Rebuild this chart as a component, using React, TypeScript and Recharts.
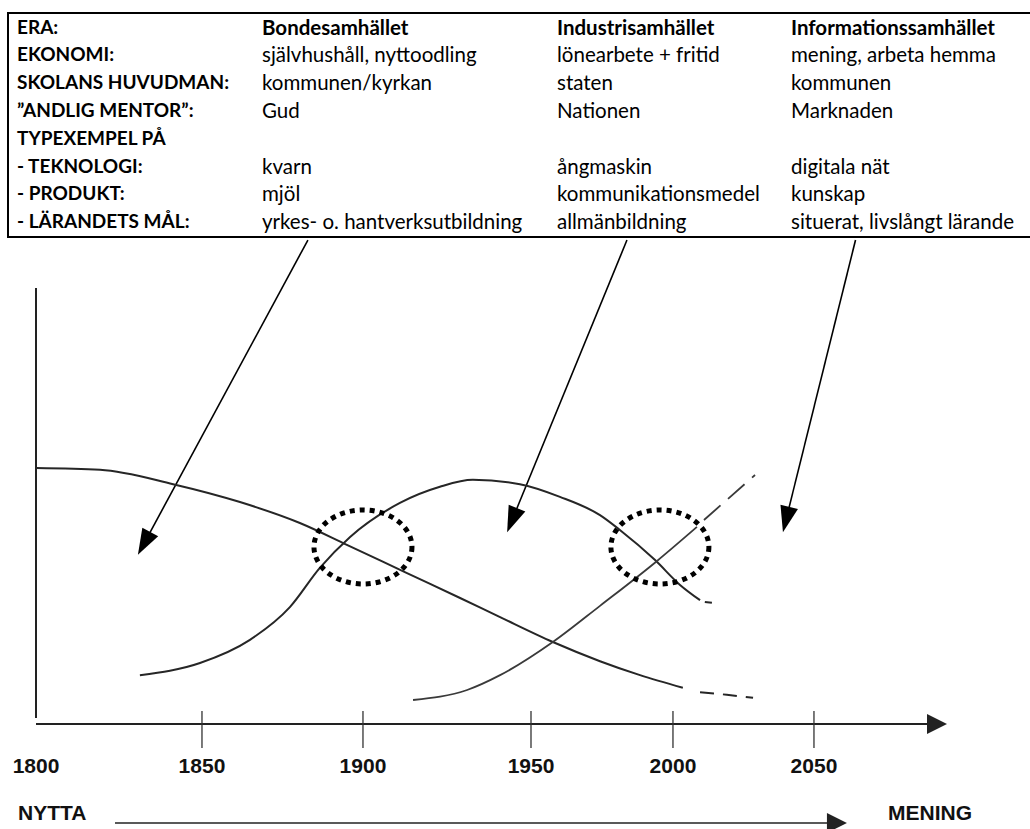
import { LineChart, Line, XAxis, YAxis, ReferenceLine, ReferenceDot } from "recharts"

// table above the chart
const rowLabels = [
  "ERA:",
  "EKONOMI:",
  "SKOLANS HUVUDMAN:",
  "\u201DANDLIG MENTOR\u201D:",
  "TYPEXEMPEL PÅ",
  "- TEKNOLOGI:",
  "- PRODUKT:",
  "- LÄRANDETS MÅL:",
]
const bonde = ["Bondesamhället", "självhushåll, nyttoodling", "kommunen/kyrkan", "Gud", "", "kvarn", "mjöl", "yrkes- o. hantverksutbildning"]
const industri = ["Industrisamhället", "lönearbete + fritid", "staten", "Nationen", "", "ångmaskin", "kommunikationsmedel", "allmänbildning"]
const info = ["Informationssamhället", "mening, arbeta hemma", "kommunen", "Marknaden", "", "digitala nät", "kunskap", "situerat, livslångt lärande"]

// curves: year -> relative weight (0..100)
const bondeCurve = [
  { year: 1800, v: 58.7 }, { year: 1819.3, v: 58.3 }, { year: 1841.3, v: 55.0 }, { year: 1861.8, v: 50.9 },
  { year: 1880.4, v: 46.1 }, { year: 1895.0, v: 41.1 }, { year: 1913.1, v: 34.6 }, { year: 1928.9, v: 28.9 },
  { year: 1940.8, v: 24.5 }, { year: 1957.7, v: 18.8 }, { year: 1974.3, v: 14.4 }, { year: 1988.4, v: 11.2 },
  { year: 2003.5, v: 8.3 },
]
const bondeTail = [{ year: 2009.6, v: 7.3 }, { year: 2019.1, v: 6.7 }, { year: 2028.4, v: 6.0 }]

const industriCurve = [
  { year: 1831.3, v: 11.2 }, { year: 1849.4, v: 14.0 }, { year: 1864.9, v: 19.3 }, { year: 1877.3, v: 26.8 },
  { year: 1886.6, v: 35.8 }, { year: 1896.0, v: 42.9 }, { year: 1911.0, v: 50.7 }, { year: 1922.9, v: 54.4 },
  { year: 1932.7, v: 56.0 }, { year: 1946.7, v: 55.0 }, { year: 1960.2, v: 52.1 }, { year: 1974.3, v: 47.9 },
  { year: 1981.3, v: 44.5 }, { year: 1993.7, v: 37.6 }, { year: 2002.5, v: 31.9 }, { year: 2009.6, v: 28.4 },
]
const industriTail = [{ year: 2011.3, v: 28.0 }, { year: 2013.8, v: 27.8 }]

const infoCurve = [
  { year: 1914.9, v: 5.5 }, { year: 1931.0, v: 7.8 }, { year: 1940.8, v: 11.2 }, { year: 1957.7, v: 18.8 },
  { year: 1974.3, v: 27.1 }, { year: 1994.4, v: 37.4 }, { year: 2008.5, v: 45.2 },
]
const infoTail = [{ year: 2011.0, v: 46.8 }, { year: 2029.1, v: 57.1 }]

const yearTicks = [1800, 1850, 1900, 1950, 2000, 2050]

// the hand-drawn time axis is not evenly spaced: where each year sits along it (0..1)
const axisYears = [1800, 1850, 1900, 1950, 2000, 2050, 2085]
const axisFrac = [0, 0.1867, 0.3678, 0.5568, 0.7165, 0.8751, 1]

// arrows from the table columns down into the chart [from, to]
const eraArrows = [
  [{ x: 1882.9, y: 111 }, { x: 1830.7, y: 38.8 }],
  [{ x: 1983.8, y: 111 }, { x: 1942.9, y: 44.0 }],
  [{ x: 2063.1, y: 111 }, { x: 2039.0, y: 44.0 }],
]
// crossing points circled
const crossings = [
  { year: 1900.0, v: 40.6 },
  { year: 1995.4, v: 40.6 },
]

const font = "Lato, 'Noto Sans', sans-serif"
const arial = "'Liberation Sans', Arial, sans-serif"

function piecewiseScale(): any {
  let dom = [axisYears[0], axisYears[axisYears.length - 1]]
  let rng = [0, 1]
  const toFrac = (v: number) => {
    const n = axisYears.length
    let i = 0
    if (v >= axisYears[n - 1]) i = n - 2
    else while (i < n - 2 && v > axisYears[i + 1]) i++
    const t = (v - axisYears[i]) / (axisYears[i + 1] - axisYears[i])
    return axisFrac[i] + t * (axisFrac[i + 1] - axisFrac[i])
  }
  const fromFrac = (f: number) => {
    const n = axisFrac.length
    let i = 0
    if (f >= axisFrac[n - 1]) i = n - 2
    else while (i < n - 2 && f > axisFrac[i + 1]) i++
    const t = (f - axisFrac[i]) / (axisFrac[i + 1] - axisFrac[i])
    return axisYears[i] + t * (axisYears[i + 1] - axisYears[i])
  }
  const s: any = (v: number) => {
    const f0 = toFrac(dom[0])
    const f1 = toFrac(dom[1])
    const f = (toFrac(Number(v)) - f0) / (f1 - f0)
    return rng[0] + f * (rng[1] - rng[0])
  }
  s.domain = (d?: any) => {
    if (d === undefined) return dom.slice()
    dom = [Number(d[0]), Number(d[d.length - 1])]
    return s
  }
  s.range = (r?: any) => {
    if (r === undefined) return rng.slice()
    rng = [Number(r[0]), Number(r[r.length - 1])]
    return s
  }
  s.invert = (px: number) => {
    const f0 = toFrac(dom[0])
    const f1 = toFrac(dom[1])
    return fromFrac(f0 + ((px - rng[0]) / (rng[1] - rng[0])) * (f1 - f0))
  }
  s.ticks = () => yearTicks.slice()
  s.tickFormat = () => (v: any) => String(v)
  s.copy = () => {
    const c = piecewiseScale()
    c.domain(dom)
    c.range(rng)
    return c
  }
  return s
}

const arrow = (head: number, half: number, width: number, color = "#000") => (props: any) => {
  const { x1, y1, x2, y2 } = props
  const dx = x2 - x1
  const dy = y2 - y1
  const len = Math.hypot(dx, dy) || 1
  const ux = dx / len
  const uy = dy / len
  const bx = x2 - ux * head
  const by = y2 - uy * head
  const px = -uy * half
  const py = ux * half
  return (
    <g>
      <line x1={x1} y1={y1} x2={bx + ux} y2={by + uy} stroke={color} strokeWidth={width} />
      <polygon points={`${x2},${y2} ${bx + px},${by + py} ${bx - px},${by - py}`} fill={color} />
    </g>
  )
}

function YearTick(props: any) {
  const { x, y, payload } = props
  return (
    <g>
      {payload.value !== 1800 && <line x1={x} x2={x} y1={y - 13} y2={y + 24} stroke="#333" strokeWidth={1.3} />}
      <text x={x} y={y + 41} textAnchor="middle" dominantBaseline="central" fontFamily={arial} fontWeight="bold" fontSize={21} fill="#111">
        {payload.value}
      </text>
    </g>
  )
}

const ellipse = (props: any) => (
  <ellipse cx={props.cx} cy={props.cy} rx={49} ry={37} fill="none" stroke="#000" strokeWidth={5} strokeDasharray="5 5" />
)

const curveStroke = "#262626"
const yearScale = piecewiseScale()

export default function App() {
  const cols = [bonde, industri, info]
  const colX = [262, 557, 791]
  const rowTop = (r: number) => 27 + r * 27.8 - 14.5
  return (
    <div style={{ position: "relative", width: 1030, height: 829, background: "#fff", overflow: "hidden" }}>
      <style>{"body{margin:0}"}</style>
      <LineChart width={1030} height={829} margin={{ top: 288, right: 105, bottom: 75, left: 36 }} style={{ position: "absolute", left: 0, top: 0 }}>
        <XAxis
          type="number"
          dataKey="year"
          domain={[1800, 2085]}
          scale={yearScale}
          ticks={yearTicks}
          allowDataOverflow
          axisLine={false}
          tickLine={false}
          tickSize={0}
          tickMargin={0}
          height={30}
          tick={<YearTick />}
          interval={0}
        />
        <YAxis type="number" dataKey="v" domain={[0, 100]} allowDataOverflow hide />
        {/* axes drawn by hand */}
        <ReferenceLine segment={[{ x: 1800, y: 100 }, { x: 1800, y: 1.4 }]} ifOverflow="visible" stroke="#222" strokeWidth={2} />
        <ReferenceLine segment={[{ x: 1800, y: 0 }, { x: 2085, y: 0 }]} ifOverflow="visible" stroke="#222" strokeWidth={2} />
        <ReferenceLine segment={[{ x: 2075, y: 0 }, { x: 2085, y: 0 }]} ifOverflow="visible" shape={(p: any) => arrow(20, 10, 2, "#222")({ ...p, x2: p.x2 + 22 })} />
        <ReferenceLine segment={[{ x: 1823.8, y: -22.7 }, { x: 2060.4, y: -22.7 }]} ifOverflow="visible" shape={arrow(20, 10, 1.5, "#222")} />
        {eraArrows.map((seg, i) => (
          <ReferenceLine key={i} segment={seg} ifOverflow="visible" shape={arrow(26, 9, 1.6)} />
        ))}
        <Line data={bondeCurve} dataKey="v" type="monotone" stroke={curveStroke} strokeWidth={2} dot={false} isAnimationActive={false} />
        <Line data={bondeTail} dataKey="v" type="monotone" stroke={curveStroke} strokeWidth={2} strokeDasharray="14 9" dot={false} isAnimationActive={false} />
        <Line data={industriCurve} dataKey="v" type="monotone" stroke={curveStroke} strokeWidth={2} dot={false} isAnimationActive={false} />
        <Line data={industriTail} dataKey="v" type="linear" stroke={curveStroke} strokeWidth={2} dot={false} isAnimationActive={false} />
        <Line data={infoCurve} dataKey="v" type="monotone" stroke="#3a3a3a" strokeWidth={1.8} dot={false} isAnimationActive={false} />
        <Line data={infoTail} dataKey="v" type="linear" stroke="#3a3a3a" strokeWidth={1.8} strokeDasharray="22 10" dot={false} isAnimationActive={false} />
        {crossings.map((c, i) => (
          <ReferenceDot key={i} x={c.year} y={c.v} ifOverflow="visible" shape={ellipse} />
        ))}
      </LineChart>

      {/* era table */}
      <div
        style={{
          position: "absolute",
          left: 7,
          top: 12,
          width: 1030,
          height: 222,
          borderTop: "2px solid #000",
          borderBottom: "2px solid #000",
          borderLeft: "2px solid #000",
        }}
      />
      {rowLabels.map((label, r) => (
        <div key={"l" + r} style={{ position: "absolute", left: 17, top: rowTop(r), lineHeight: "28px", fontFamily: font, fontSize: 19, fontWeight: 700, color: "#000", whiteSpace: "nowrap" }}>
          {label}
        </div>
      ))}
      {cols.map((col, c) =>
        col.map((txt, r) => (
          <div
            key={c + "-" + r}
            style={{ position: "absolute", left: colX[c], top: rowTop(r), lineHeight: "28px", fontFamily: font, fontSize: 20.5, fontWeight: r === 0 ? 700 : 400, color: "#000", whiteSpace: "nowrap" }}
          >
            {txt}
          </div>
        ))
      )}

      <div style={{ position: "absolute", left: 18, top: 800, fontFamily: arial, fontWeight: 700, fontSize: 21, lineHeight: "26px", color: "#111" }}>NYTTA</div>
      <div style={{ position: "absolute", left: 888, top: 800, fontFamily: arial, fontWeight: 700, fontSize: 21, lineHeight: "26px", color: "#111" }}>MENING</div>
    </div>
  )
}
